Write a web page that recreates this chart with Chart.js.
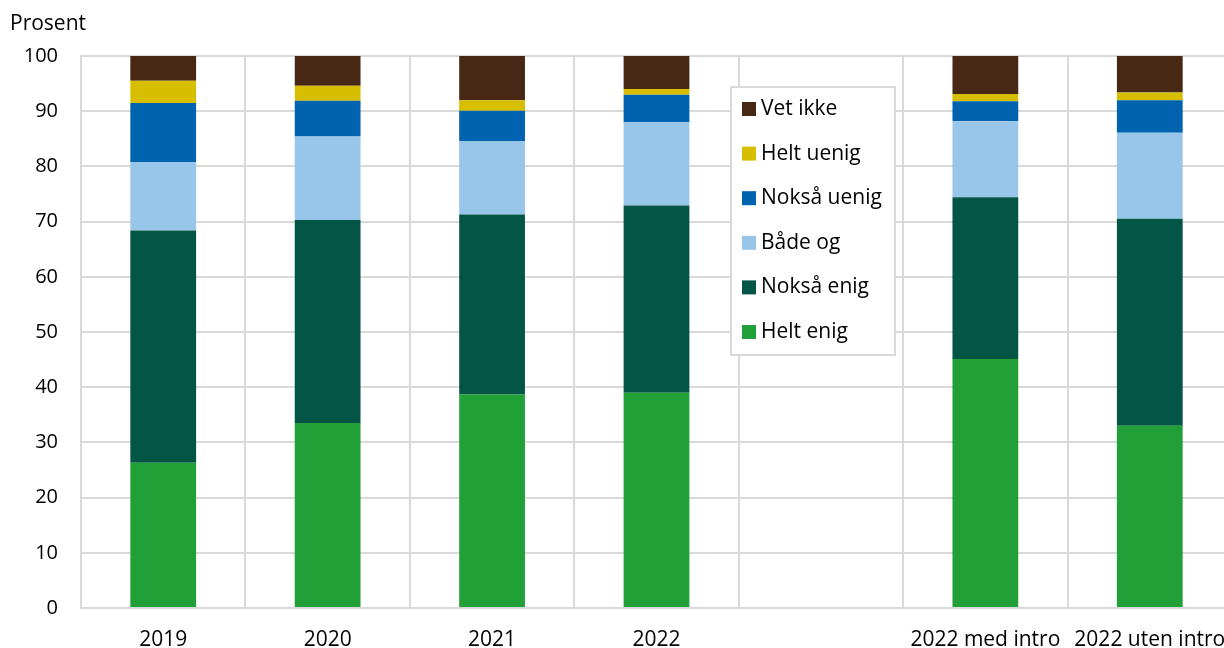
<!DOCTYPE html>
<html lang="no">
<head>
<meta charset="UTF-8">
<title>Prosent</title>
<script src="https://cdn.jsdelivr.net/npm/chart.js"></script>
<style>
  html, body { margin: 0; padding: 0; background: #fff; overflow: hidden; }
  .wrap { position: relative; width: 1232px; height: 648px; }
</style>
</head>
<body>
<div class="wrap"><canvas id="chart"></canvas></div>
<script>
// kategorier og verdier (prosent)
const categories = ['2019', '2020', '2021', '2022', '', '2022 med intro', '2022 uten intro'];
const heltEnig   = [26.3, 33.5, 38.7, 39.0, null, 45.1, 33.0];
const noksaEnig  = [42.1, 36.8, 32.6, 33.9, null, 29.3, 37.5];
const badeOg     = [12.4, 15.1, 13.3, 15.1, null, 13.8, 15.6];
const noksaUenig = [10.7, 6.5, 5.5, 5.0, null, 3.6, 5.9];
const heltUenig  = [4.0, 2.7, 1.9, 1.0, null, 1.3, 1.4];
const vetIkke    = [4.5, 5.4, 8.0, 6.2, null, 6.9, 6.6];
const yTicks = [0, 10, 20, 30, 40, 50, 60, 70, 80, 90, 100];

const FONT = '"Open Sans", "Noto Sans", sans-serif';
const GRID = '#d9d9d9';

const datasets = [
    { label: 'Helt enig',   data: heltEnig,   backgroundColor: '#21a038' },
    { label: 'Nokså enig',  data: noksaEnig,  backgroundColor: '#035545' },
    { label: 'Både og',     data: badeOg,     backgroundColor: '#97c6ea' },
    { label: 'Nokså uenig', data: noksaUenig, backgroundColor: '#0063af' },
    { label: 'Helt uenig',  data: heltUenig,  backgroundColor: '#d8be00' },
    { label: 'Vet ikke',    data: vetIkke,    backgroundColor: '#472815' }
];
datasets.forEach(d => { d.barPercentage = 0.4; d.categoryPercentage = 1; d.borderWidth = 0; });

// legende inne i plottet + aksetittel
const extras = {
    id: 'extras',
    afterDraw(chart) {
        const ctx = chart.ctx;
        ctx.save();
        ctx.font = '21px ' + FONT;
        ctx.fillStyle = '#000';
        ctx.textAlign = 'left';
        ctx.textBaseline = 'middle';
        ctx.fillText('Prosent', 10, 24);

        const x = 731, y = 87, w = 164, h = 268;
        ctx.fillStyle = '#fff';
        ctx.fillRect(x, y, w, h);
        ctx.strokeStyle = GRID;
        ctx.lineWidth = 2;
        ctx.strokeRect(x, y, w, h);
        ctx.font = '21px ' + FONT;
        const items = chart.data.datasets.slice().reverse();
        items.forEach((ds, i) => {
            const cy = 109 + i * 44.6;
            ctx.fillStyle = ds.backgroundColor;
            ctx.fillRect(742, cy - 7, 14, 14);
            ctx.fillStyle = '#000';
            ctx.fillText(ds.label, 761, cy);
        });
        ctx.restore();
    }
};

new Chart(document.getElementById('chart'), {
    type: 'bar',
    data: { labels: categories, datasets: datasets },
    options: {
        responsive: true,
        maintainAspectRatio: false,
        animation: false,
        layout: { padding: { top: 56, right: 0, left: 0, bottom: 0 } },
        plugins: { legend: { display: false }, tooltip: { enabled: false } },
        scales: {
            x: {
                stacked: true,
                grid: { offset: true, color: GRID, lineWidth: 2, drawTicks: false },
                border: { color: GRID, width: 2 },
                ticks: { color: '#000', font: { family: FONT, size: 21 }, padding: 19, maxRotation: 0, autoSkip: false },
                afterFit(scale) {
                    scale.height = 40;
                    scale.paddingLeft = 0;
                    scale.paddingRight = 0;
                }
            },
            y: {
                stacked: true,
                min: 0,
                max: 100,
                afterBuildTicks(scale) { scale.ticks = yTicks.map(v => ({ value: v })); },
                grid: { color: GRID, lineWidth: 2, drawTicks: false },
                border: { color: GRID, width: 2 },
                ticks: { color: '#000', font: { family: FONT, size: 20 }, padding: 23 },
                afterFit(scale) { scale.width = 81; }
            }
        }
    },
    plugins: [extras]
});
</script>
</body>
</html>
